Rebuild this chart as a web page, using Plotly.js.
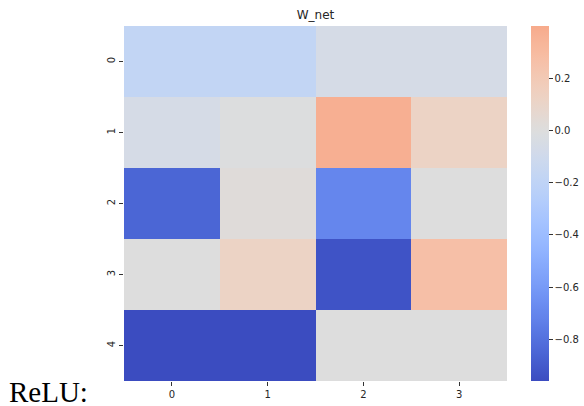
<!DOCTYPE html>
<html>
<head>
<meta charset="utf-8">
<script src="https://cdn.plot.ly/plotly-3.0.1.min.js"></script>
<style>html,body{margin:0;padding:0;background:#fff;}</style>
</head>
<body>
<div id="chart" style="width:584px;height:406px;"></div>
<script>
const colLabels = [0, 1, 2, 3];
const rowLabels = [0, 1, 2, 3, 4];
const row0 = [-0.18, -0.18, -0.06, -0.06];
const row1 = [-0.06, -0.01, 0.37, 0.12];
const row2 = [-0.85, 0.02, -0.70, 0.00];
const row3 = [0.00, 0.12, -0.93, 0.27];
const row4 = [-0.96, -0.96, 0.00, 0.00];
const zMin = -0.96;
const zMax = 0.40;
const cbTicks = [-0.8, -0.6, -0.4, -0.2, 0.0, 0.2];

// matplotlib coolwarm knots, centered at 0 (seaborn center=0)
const cw = [[59,76,192],[68,90,204],[77,104,215],[87,117,225],[98,130,234],[108,142,241],[119,154,247],[130,165,251],[141,176,254],[152,185,255],[163,194,255],[174,201,253],[184,208,249],[194,213,244],[204,217,238],[213,219,230],[221,221,221],[229,216,209],[236,211,197],[241,204,185],[245,196,173],[247,187,160],[247,177,148],[247,166,135],[244,154,123],[241,141,111],[236,127,99],[229,112,88],[222,96,77],[213,80,66],[203,62,56],[192,40,47],[180,4,38]];
const half = Math.max(Math.abs(zMin), Math.abs(zMax));
function cwAt(t){
  const f = t*(cw.length-1); const i = Math.min(Math.floor(f), cw.length-2); const r = f-i;
  const c = [0,1,2].map(k => Math.round(cw[i][k]*(1-r)+cw[i+1][k]*r));
  return 'rgb('+c.join(',')+')';
}
const colorscale = [];
const N = 40;
for (let j=0;j<=N;j++){
  const p = j/N;
  const z = zMin + p*(zMax-zMin);
  const t = (z + half)/(2*half);
  colorscale.push([p, cwAt(t)]);
}

const data = [{
  type: 'heatmap',
  x: colLabels,
  y: rowLabels,
  z: [row0, row1, row2, row3, row4],
  zmin: zMin, zmax: zMax,
  colorscale: colorscale,
  xgap: 0, ygap: 0,
  hoverinfo: 'skip',
  colorbar: {
    thickness: 18, thicknessmode: 'pixels',
    len: 1, lenmode: 'fraction',
    x: 1.063, xanchor: 'left', xpad: 0,
    y: 0.5, yanchor: 'middle', ypad: 0,
    outlinewidth: 0,
    tickvals: cbTicks, tickformat: '.1f',
    ticks: 'outside', ticklen: 4, tickwidth: 1, tickcolor: '#333',
    tickfont: {family: 'DejaVu Sans', size: 10, color: '#262626'}
  }
}];

const layout = {
  width: 584, height: 406,
  margin: {l: 124, r: 77, t: 26, b: 25, pad: 0, autoexpand: false},
  paper_bgcolor: '#fff', plot_bgcolor: '#fff',
  title: {text: 'W_net', x: 0.5, xref: 'paper', xanchor: 'center', y: 1, yref: 'paper', yanchor: 'bottom', pad: {b: 7},
    font: {family: 'DejaVu Sans', size: 12, color: '#262626'}},
  xaxis: {
    range: [-0.5, 3.5], tickvals: colLabels, ticktext: colLabels.map(String),
    ticks: 'outside', ticklen: 4, tickwidth: 1, tickcolor: '#333',
    showgrid: false, zeroline: false, showline: false, automargin: false,
    tickfont: {family: 'DejaVu Sans', size: 10, color: '#262626'}
  },
  yaxis: {
    range: [4.5, -0.5], tickvals: rowLabels, ticktext: rowLabels.map(String),
    ticks: 'outside', ticklen: 4, tickwidth: 1, tickcolor: '#333', tickangle: -90,
    showgrid: false, zeroline: false, showline: false, automargin: false,
    tickfont: {family: 'DejaVu Sans', size: 10, color: '#262626'}
  },
  annotations: [{
    text: 'ReLU:', xref: 'paper', yref: 'paper',
    x: (7-124)/383, xanchor: 'left', y: 0.02, yanchor: 'top',
    showarrow: false,
    font: {family: 'Liberation Serif', size: 29, color: '#000'}
  }]
};

Plotly.newPlot('chart', data, layout, {displayModeBar: false, staticPlot: true});
</script>
</body>
</html>
